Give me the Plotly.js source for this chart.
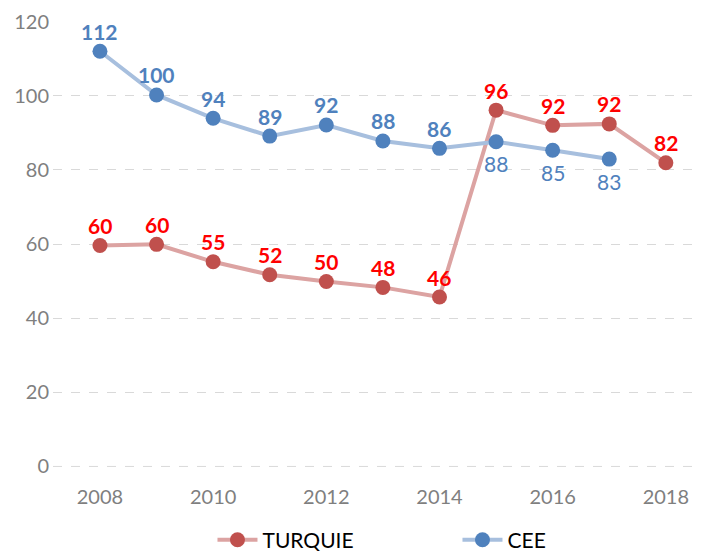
<!DOCTYPE html>
<html>
<head>
<meta charset="utf-8">
<script src="https://cdn.plot.ly/plotly-3.0.1.min.js"></script>
<style>html,body{margin:0;padding:0;background:#fff;}#chart{width:705px;height:551px;}</style>
</head>
<body>
<div id="chart"></div>
<script>
const years = [2008, 2009, 2010, 2011, 2012, 2013, 2014, 2015, 2016, 2017, 2018];
const turquie = [59.6, 59.9, 55.2, 51.7, 49.9, 48.3, 45.7, 96.1, 92.0, 92.4, 81.9];
const ceeYears = [2008, 2009, 2010, 2011, 2012, 2013, 2014, 2015, 2016, 2017];
const cee = [112.0, 100.2, 93.9, 89.1, 92.1, 87.8, 85.8, 87.6, 85.3, 82.9];
const ceeLabelBelow = [false, false, false, false, false, false, false, true, true, true];
const xTicks = [2008, 2010, 2012, 2014, 2016, 2018];
const yTicks = [0, 20, 40, 60, 80, 100, 120];

const FONT = 'Lato, "Open Sans", sans-serif';

const traces = [
  {
    x: years, y: turquie, name: 'TURQUIE', type: 'scatter', mode: 'lines+markers',
    line: {color: '#dca3a2', width: 4},
    marker: {color: '#c0504d', size: 15},
    cliponaxis: false, hoverinfo: 'skip'
  },
  {
    x: ceeYears, y: cee, name: 'CEE', type: 'scatter', mode: 'lines+markers',
    line: {color: '#a7bfde', width: 4},
    marker: {color: '#4f81bd', size: 15},
    cliponaxis: false, hoverinfo: 'skip'
  }
];

const annotations = [];
years.forEach((yr, i) => {
  annotations.push({
    x: yr, y: turquie[i], xref: 'x', yref: 'y', text: String(Math.round(turquie[i])),
    showarrow: false, yanchor: 'middle', xanchor: 'center', yshift: 20,
    font: {family: FONT, size: 21, color: '#ff0000', weight: 'bold'}
  });
});
ceeYears.forEach((yr, i) => {
  annotations.push({
    x: yr, y: cee[i], xref: 'x', yref: 'y', text: String(Math.round(cee[i])),
    showarrow: false, yanchor: 'middle', xanchor: 'center', yshift: ceeLabelBelow[i] ? -22 : 20,
    font: {family: FONT, size: 21, color: '#4f81bd', weight: ceeLabelBelow[i] ? 'normal' : 'bold'}
  });
});

const layout = {
  width: 705, height: 551,
  margin: {l: 53, r: 12, t: 21, b: 84, autoexpand: false},
  paper_bgcolor: '#ffffff', plot_bgcolor: '#ffffff',
  font: {family: FONT, size: 20, color: '#7f7f7f'},
  showlegend: true,
  legend: {
    orientation: 'h', x: 0.632, xanchor: 'center', y: -0.164, yanchor: 'middle',
    font: {family: FONT, size: 21, color: '#000000'},
    entrywidth: 190, entrywidthmode: 'pixels', itemwidth: 40
  },
  annotations: annotations,
  shapes: [{
    type: 'line', xref: 'paper', yref: 'y', x0: 0, x1: 1, y0: 0, y1: 0,
    line: {color: '#d9d9d9', width: 1, dash: 'dash'}, layer: 'below'
  }],
  xaxis: {
    range: [2007.17, 2018.48], tickvals: xTicks, ticktext: xTicks.map(String),
    showgrid: false, zeroline: false, showline: false, ticks: '',
    tickfont: {family: FONT, size: 20, color: '#7f7f7f'}, ticklabelstandoff: 16
  },
  yaxis: {
    range: [-0.15, 120.15], tickvals: yTicks, ticktext: yTicks.map(String),
    showgrid: true, gridcolor: '#d9d9d9', griddash: 'dash', gridwidth: 1,
    zeroline: false, showline: false, ticks: '',
    tickfont: {family: FONT, size: 20, color: '#7f7f7f'}, ticklabelstandoff: 3
  }
};

Plotly.newPlot('chart', traces, layout, {staticPlot: true, displayModeBar: false});
</script>
</body>
</html>
